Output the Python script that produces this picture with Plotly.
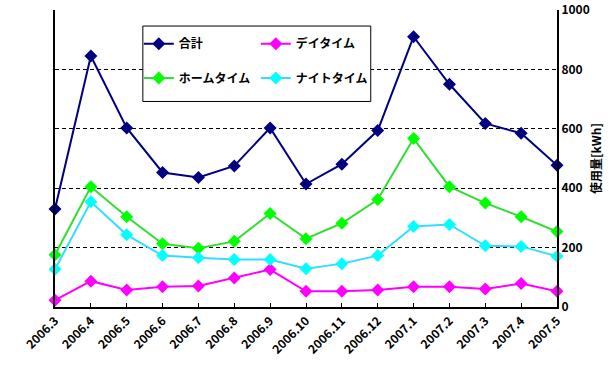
import plotly.graph_objects as go

months = ["2006.3", "2006.4", "2006.5", "2006.6", "2006.7", "2006.8", "2006.9", "2006.10",
          "2006.11", "2006.12", "2007.1", "2007.2", "2007.3", "2007.4", "2007.5"]
total = [330, 845, 603, 453, 436, 475, 603, 414, 481, 594, 910, 750, 618, 585, 477]
daytime = [23, 87, 57, 68, 71, 98, 126, 53, 53, 57, 68, 68, 61, 79, 53]
hometime = [176, 405, 304, 213, 198, 221, 315, 230, 282, 362, 567, 405, 350, 304, 254]
nighttime = [127, 354, 243, 173, 166, 160, 160, 129, 146, 173, 271, 278, 206, 204, 171]
y_ticks = [0, 200, 400, 600, 800, 1000]

FONT = "Noto Sans CJK JP"

series = [
    ("合計", total, "#000080", "#000080", "legend"),
    ("デイタイム", daytime, "#FF00FF", "#FF00FF", "legend"),
    ("ホームタイム", hometime, "#33DD33", "#00FF00", "legend2"),
    ("ナイトタイム", nighttime, "#33DDFF", "#00FFFF", "legend2"),
]

fig = go.Figure()
for name, vals, lc, mc, lg in series:
    fig.add_trace(go.Scatter(
        x=months, y=vals, name=name, mode="lines+markers",
        line=dict(color=lc, width=2),
        marker=dict(symbol="diamond", size=10, color=mc, line=dict(width=0)),
        cliponaxis=False, legend=lg,
    ))

legend_common = dict(orientation="h", xanchor="left", yanchor="top",
                     entrywidth=72, entrywidthmode="pixels", bgcolor="rgba(0,0,0,0)",
                     font=dict(family=FONT, size=12, weight="bold"), itemwidth=30)

fig.update_layout(
    width=613, height=368,
    margin=dict(l=55, r=56, t=10, b=61),
    paper_bgcolor="white", plot_bgcolor="white",
    font=dict(family=FONT, size=11, color="black"),
    showlegend=True,
    legend=dict(x=0.167, y=0.935, **legend_common),
    legend2=dict(x=0.167, y=0.82, **legend_common),
    xaxis=dict(type="category", range=[0, len(months) - 1], showline=True,
               linecolor="black", linewidth=2, ticks="inside", ticklen=4,
               tickcolor="black", tickangle=-45, showgrid=False, automargin=False,
               tickfont=dict(family=FONT, size=12, weight="bold")),
    yaxis=dict(side="right", range=[0, y_ticks[-1]], tickmode="linear", tick0=0,
               dtick=y_ticks[1] - y_ticks[0], ticklabeloverflow="allow", showline=True,
               mirror=True, linecolor="black", linewidth=2, showgrid=True,
               gridcolor="black", gridwidth=1, griddash="4px,3px", zeroline=False,
               ticks="", automargin=False,
               tickfont=dict(family=FONT, size=12, weight="bold"),
               title=dict(text="使用量[kWh]", font=dict(family=FONT, size=12, weight="bold"),
                          standoff=4)),
    shapes=[dict(type="rect", xref="paper", yref="paper", x0=0.175, x1=0.629,
                 y0=0.692, y1=0.946, line=dict(color="black", width=1),
                 fillcolor="white", layer="above")],
)

fig.write_html("out.html", post_script="document.body.style.margin='0';",
               config={"displayModeBar": False})
